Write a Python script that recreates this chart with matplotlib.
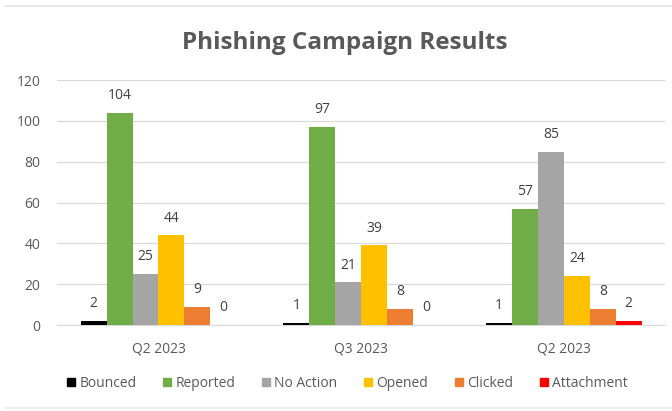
import numpy as np
import matplotlib.pyplot as plt
from matplotlib.lines import Line2D

quarters = ['Q2 2023', 'Q3 2023', 'Q2 2023']
series = ['Bounced', 'Reported', 'No Action', 'Opened', 'Clicked', 'Attachment']
bounced = [2, 1, 1]
reported = [104, 97, 57]
no_action = [25, 21, 85]
opened = [44, 39, 24]
clicked = [9, 8, 8]
attachment = [0, 0, 2]
colors = ['#000000', '#70AD47', '#A5A5A5', '#FFC000', '#ED7D31', '#FF0000']

plt.rcParams['font.family'] = ['Open Sans', 'DejaVu Sans']
text_col = '#595959'

fig = plt.figure(figsize=(6.72, 4.11), dpi=100)
ax = fig.add_axes([0.085, 0.209, 0.905, 0.596])

x = np.arange(len(quarters))
w = 0.128
values = [bounced, reported, no_action, opened, clicked, attachment]
for i, (name, vals, c) in enumerate(zip(series, values, colors)):
    pos = x + (i - 2.5) * w
    bars = ax.bar(pos, vals, width=w, color=c, label=name, zorder=3)
    ax.bar_label(bars, padding=7, fontsize=10, color='#404040')

ax.set_xlim(-0.5, 2.5)
ax.set_ylim(0, 120)
ax.set_yticks(range(0, 121, 20))
ax.set_xticks(x)
ax.set_xticklabels(quarters)
ax.tick_params(length=0, labelsize=10, labelcolor=text_col)
ax.tick_params(axis='x', pad=12)
ax.tick_params(axis='y', pad=12)
ax.grid(axis='y', color='#D9D9D9', linewidth=0.9, zorder=0)
for s in ['top', 'right', 'left']:
    ax.spines[s].set_visible(False)
ax.spines['bottom'].set_color('#D9D9D9')

fig.text(0.513, 0.895, 'Phishing Campaign Results', ha='center', va='center',
         fontsize=17.5, fontweight='bold', color=text_col)

handles = [Line2D([], [], marker='s', linestyle='', markersize=6, color=c) for c in colors]
fig.legend(handles, series, loc='center', bbox_to_anchor=(0.515, 0.068), ncol=6,
           frameon=False, fontsize=10, labelcolor=text_col, handletextpad=0.1,
           columnspacing=1.7, handlelength=1.0)

# faint frame lines top and bottom
fig.add_artist(Line2D([0.008, 1], [0.985, 0.985], color='#E4E4E4', linewidth=1.2))
fig.add_artist(Line2D([0.008, 1], [0.008, 0.008], color='#EAEAEA', linewidth=1.2))

fig.savefig('out.png', dpi=100)
